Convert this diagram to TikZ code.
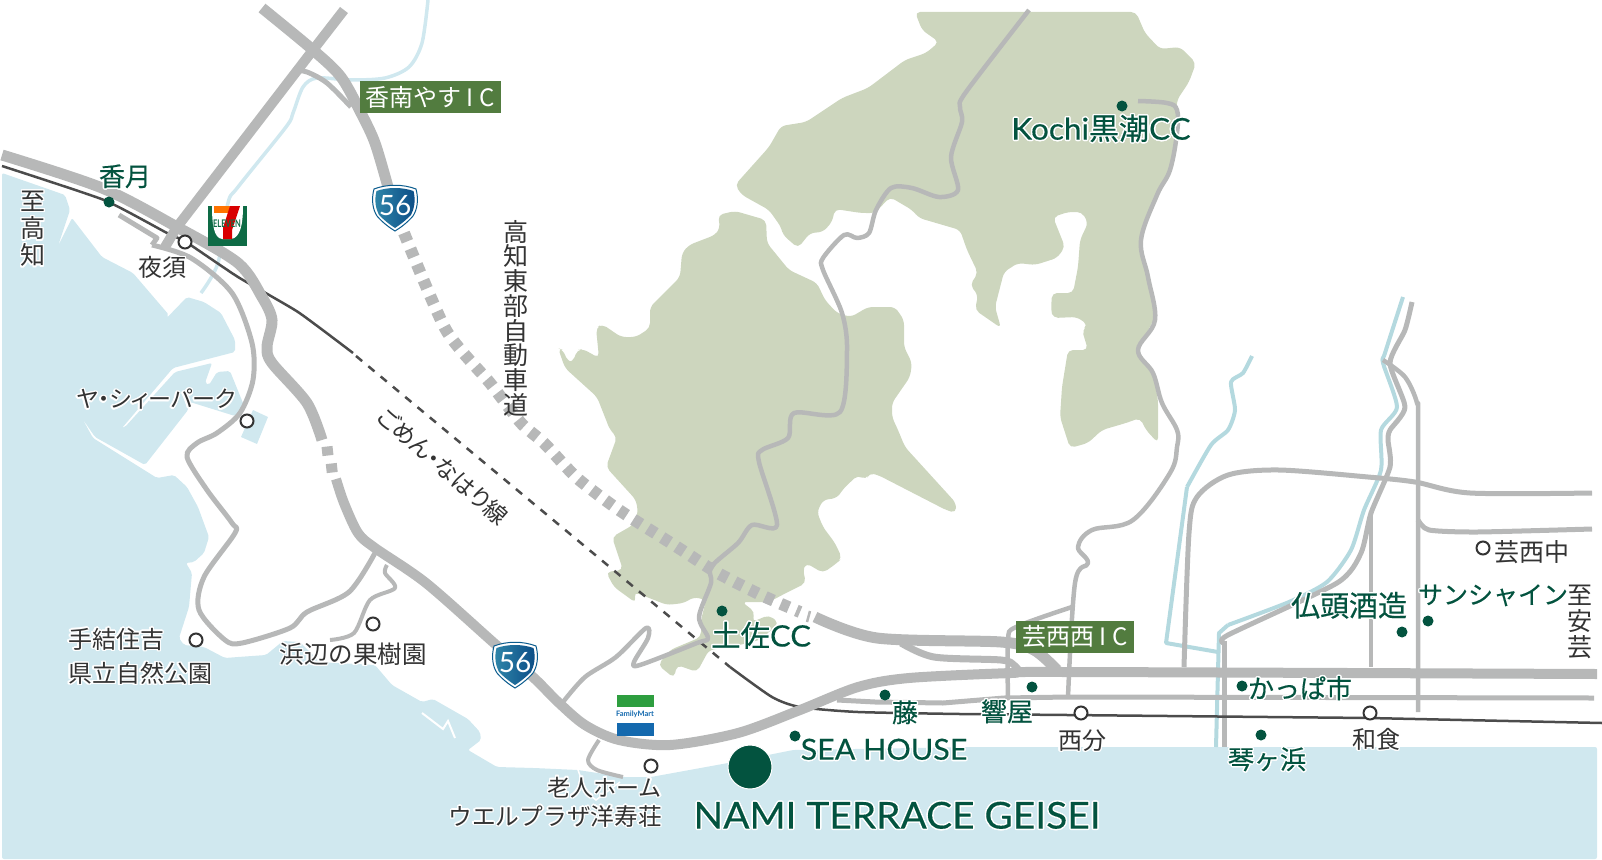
\documentclass[tikz,border=0pt]{standalone}
\usepackage{fontspec}
\usepackage[copies]{contour}
\setmainfont{Noto Sans CJK JP}
\newfontfamily\latinfont{Lato}
\newfontfamily\spotfont[FakeBold=0.35]{Noto Sans CJK JP}
\newfontfamily\latinspot[FakeBold=0.3, FakeStretch=1.05]{Lato}
\newfontfamily\paltfont[RawFeature={+palt}]{Noto Sans CJK JP}
\usetikzlibrary{positioning}

\definecolor{seablue}{HTML}{D0E8EF}
\definecolor{hillgreen}{HTML}{CDD6BE}
\definecolor{roadgray}{HTML}{B7B8B8}
\definecolor{railgray}{HTML}{4C4C4C}
\definecolor{riverblue}{HTML}{B4D9DF}
\definecolor{inkgray}{HTML}{333333}
\definecolor{spotgreen}{HTML}{03533F}
\definecolor{icgreen}{HTML}{527C3F}
\definecolor{shieldedge}{HTML}{0B5C8E}
\definecolor{shieldleft}{HTML}{2F86A9}
\definecolor{shieldright}{HTML}{0B4C86}
\definecolor{sevengreen}{HTML}{0E6B45}
\definecolor{martgreen}{HTML}{2E9E3F}
\definecolor{martblue}{HTML}{1469AE}

\newcommand{\fs}[1]{\fontsize{#1pt}{#1pt}\selectfont}
\newcommand{\halo}[1]{\contour{white}{#1}}
\contourlength{1.4pt}

\tikzset{
  road/.style={draw=roadgray, line width=#1, line join=round},
  river/.style={draw=riverblue, line width=#1, line join=round},
  hill/.style={fill=hillgreen, rounded corners=5pt},
  rail/.style={draw=railgray, line width=2.5pt},
  openstop/.style={circle, draw=inkgray, fill=white, line width=2pt, minimum size=13pt, inner sep=0pt},
  spotdot/.style={circle, fill=spotgreen, minimum size=11pt, inner sep=0pt},
  jp/.style={font=\fs{24}, text=inkgray, inner sep=0pt},
  spot/.style={font=\fs{26}\spotfont, text=spotgreen, inner sep=0pt},
  iclabel/.style={fill=icgreen, text=white, font=\fs{24}, inner sep=0pt, minimum height=32pt},
  shield/.pic={
    \path[fill=white, draw=shieldedge, line width=1pt] (-21,-19) .. controls (-8,-24) and (8,-24) .. (21,-19)
      .. controls (24,-8) and (22,2) .. (18,8) .. controls (12,15) and (5,20) .. (0,23)
      .. controls (-5,20) and (-12,15) .. (-18,8) .. controls (-22,2) and (-24,-8) .. (-21,-19) -- cycle;
    \shade[left color=shieldleft, right color=shieldright] (-18.5,-17) .. controls (-7,-21) and (7,-21) .. (18.5,-17)
      .. controls (21,-7) and (19,1) .. (16,7) .. controls (10,13) and (4,17.5) .. (0,20)
      .. controls (-4,17.5) and (-10,13) .. (-16,7) .. controls (-19,1) and (-21,-7) .. (-18.5,-17) -- cycle;
  }
}

\begin{document}
\begin{tikzpicture}[x=1pt,y=-1pt]
  \useasboundingbox (0,0) rectangle (1602,859);

  % 1. 海
  \fill[seablue, rounded corners=2pt] (2,173) -- (65,195) -- (70,210) -- (58,246) -- (72,218) -- (102,257) -- (133,273)
    -- (169,315) -- (158,327) -- (187,297) -- (204,302) -- (221,313) -- (235,340) -- (235,352) -- (173,368) -- (122,428)
    -- (125,427) -- (175,372) -- (212,363) -- (205,383) -- (209,385) -- (217,372) -- (230,371) -- (245,408) -- (235,416)
    -- (190,402) -- (188,410) -- (145,465) -- (95,437) -- (82,418) -- (93,438) -- (157,478) -- (174,475) -- (187,487)
    -- (198,507) -- (209,537) -- (204,553) -- (194,562) -- (186,563) -- (192,573) -- (189,607) -- (179,638) -- (184,645)
    -- (204,647) -- (225,658) -- (238,657) -- (266,655) -- (283,641) -- (300,642) -- (320,662) -- (375,665) -- (392,685)
    -- (422,702) -- (433,699) -- (468,719) -- (480,732) -- (481,740) -- (468,750) -- (497,767) -- (534,768) -- (578,770)
    -- (623,777) -- (651,777) -- (728,763) -- (793,750) -- (977,747) -- (1068,747) -- (1597,747) -- (1597,859) -- (2,859) -- cycle;
  \fill[seablue] (253,410) -- (268,417) -- (257,444) -- (241,437) -- cycle;
  \draw[white, line width=2pt] (422,713) -- (443,729) -- (448,721) -- (455,738);
  \draw[white, line width=1.5pt] (578,770) -- (586,792) -- (596,800) -- (620,782);

  % 2. 山
  \fill[hill] (915,12) -- (922,30) -- (939,42) -- (926,53) -- (905,60) -- (868,88) -- (842,98) -- (806,122) -- (781,126)
    -- (769,147) -- (735,185) -- (742,195) -- (769,210) -- (781,227) -- (783,235) -- (798,248) -- (810,233) -- (823,232)
    -- (832,222) -- (835,209) -- (861,213) -- (875,213) -- (890,197) -- (912,210) -- (919,218) -- (960,230) -- (967,250)
    -- (978,273) -- (970,285) -- (978,295) -- (975,310) -- (1001,328) -- (995,307) -- (1004,272) -- (1018,263) -- (1035,265)
    -- (1057,258) -- (1065,247) -- (1053,217) -- (1068,212) -- (1082,212) -- (1088,223) -- (1080,240) -- (1078,267)
    -- (1073,293) -- (1052,293) -- (1051,310) -- (1053,318) -- (1077,317) -- (1088,325) -- (1082,330) -- (1088,350)
    -- (1068,350) -- (1062,387) -- (1060,417) -- (1070,448) -- (1088,443) -- (1102,430) -- (1126,423) -- (1140,418)
    -- (1146,430) -- (1158,443) -- (1158,400) -- (1153,373) -- (1138,350) -- (1155,317) -- (1148,277) -- (1141,240)
    -- (1155,197) -- (1170,173) -- (1175,147) -- (1177,100) -- (1189,82) -- (1196,63) -- (1180,47) -- (1160,49)
    -- (1145,33) -- (1136,12) -- cycle;
  \fill[hill] (718,215) -- (735,211) -- (766,220) -- (767,243) -- (789,270) -- (817,283) -- (825,300) -- (837,313)
    -- (851,317) -- (868,307) -- (895,307) -- (904,320) -- (904,347) -- (912,363) -- (910,377) -- (892,403) -- (892,417)
    -- (898,430) -- (905,447) -- (956,503) -- (956,513) -- (946,510) -- (878,475) -- (869,473) -- (866,480) -- (858,475)
    -- (844,488) -- (837,498) -- (823,500) -- (817,512) -- (823,527) -- (835,543) -- (842,558) -- (837,563) -- (823,573)
    -- (806,563) -- (803,570) -- (806,583) -- (786,593) -- (769,602) -- (742,602) -- (755,612) -- (752,622) -- (769,615)
    -- (779,623) -- (760,640) -- (731,647) -- (709,650) -- (697,672) -- (677,665) -- (674,678) -- (658,665) -- (670,650) -- (701,637)
    -- (701,620) -- (706,600) -- (694,597) -- (684,603) -- (667,605) -- (634,592) -- (636,603) -- (614,587) -- (606,572)
    -- (623,570) -- (612,537) -- (633,525) -- (638,513) -- (636,500) -- (606,467) -- (617,437) -- (610,430) -- (597,397)
    -- (565,368) -- (558,348) -- (563,350) -- (568,362) -- (573,362) -- (577,350) -- (583,349) -- (599,358) -- (596,328)
    -- (602,324) -- (621,337) -- (636,337) -- (650,328) -- (650,307) -- (680,277) -- (682,253) -- (689,245) -- (715,235)
    -- (720,228) -- cycle;

  % 3. 川
  \draw[draw=seablue, line width=3.5pt] plot[smooth, tension=0.5] coordinates {(428,0) (422,43) (409,67) (385,78) (351,80)
    (317,78) (303,87) (293,113) (286,127) (238,187) (228,203) (218,263) (201,293)};
  \draw[river=4pt] plot[smooth, tension=0.4] coordinates {(1252,356) (1243,373) (1231,382) (1235,410) (1228,430) (1211,445) (1187,487)};
  \draw[river=4pt] (1187,487) -- (1166,643) -- (1218,652);
  \draw[river=4pt] plot[smooth, tension=0.4] coordinates {(1403,297) (1385,353) (1383,363) (1397,407) (1381,430) (1381,470)
    (1364,510) (1351,550) (1327,582) (1289,602) (1228,625)};
  \draw[river=4pt] (1228,625) -- (1219,633) -- (1216,747);

  % 4. 鉄道(西側は道路の下)
  \draw[rail] plot[smooth, tension=0.3] coordinates {(2,166) (104,200) (167,233) (186,242) (238,277) (298,312) (353,353)};
  \draw[rail, dash pattern=on 8pt off 8pt] (356,356) -- (730,667);
  \draw[rail] plot[smooth, tension=0.4] coordinates {(730,667) (772,697) (800,707) (858,712) (960,714)};

  % 5. 道路
  \draw[road=5pt] plot[smooth] coordinates {(293,70) (307,72) (327,83) (351,107)};
  \draw[road=11pt] plot[smooth] coordinates {(262,8) (313,50) (341,77) (361,113) (375,143) (388,187)};
  \draw[road=10pt] (344,10) -- (313,50) -- (177,227) -- (165,247);
  \draw[road=5pt] (119,215) -- (157,238) -- (152,245);
  \draw[road=5pt] plot[smooth] coordinates {(152,245) (191,258) (232,293) (252,343) (253,380) (240,413) (217,433) (197,443)
    (187,457) (207,490) (232,523) (235,533) (204,577) (199,610) (225,640) (242,643) (290,628) (307,612) (349,592) (375,553)};
  \draw[road=4pt] plot[smooth] coordinates {(387,565) (385,573) (395,588) (370,600) (354,633) (330,640)};
  \draw[road=11pt] plot[smooth] coordinates {(2,155) (102,188) (177,227) (238,263) (262,297) (272,320) (267,347) (272,363) (307,403) (322,440)};
  \foreach \py in {451,468}
    \draw[road=11pt] (327+\py/4-112.75,\py-4.5) -- (327+\py/4-112.75+1,\py+4.5);
  \draw[road=10pt] plot[smooth] coordinates {(336,479) (344,503) (358,533) (375,548) (426,583) (494,643) (534,678) (558,702)
    (585,725) (619,740) (670,745) (738,733) (800,710) (858,687) (909,678) (1011,673) (1068,672) (1597,674)};
  \draw[road=12pt, dash pattern=on 9pt off 8pt] plot[smooth, tension=0.4] coordinates {(404,233) (446,330) (490,383) (521,423)
    (544,443) (577,478) (619,510) (674,545) (716,572) (761,595) (800,612)};
  \draw[road=2.5pt] (810,611) -- (807,622);
  \draw[road=11pt] plot[smooth] coordinates {(815,617) (877,638) (1001,642) (1034,650) (1057,670)};
  \draw[road=7pt] plot[smooth] coordinates {(901,643) (934,657) (1001,660) (1014,665) (1020,672)};
  \draw[road=4.5pt] plot[smooth, tension=0.5] coordinates {(1008,697) (1008,640) (1016,627) (1072,607)};
  \draw[road=5pt] (837,700) -- (875,702) -- (943,703) -- (1004,698) -- (1068,697) -- (1594,698);
  \draw[road=4.5pt] plot[smooth] coordinates {(563,702) (585,677) (616,657) (646,628) (648,638) (634,662) (640,665) (697,643) (708,638)
    (699,617) (711,583) (711,567) (738,543) (752,525) (777,525) (759,462) (762,450) (788,438) (794,413) (840,412) (847,350)
    (842,313) (823,270) (823,258) (844,235) (857,238) (869,233) (876,210) (891,188) (912,188) (939,197) (958,190) (951,157)
    (962,122) (960,107) (966,92) (1029,10)};
  \draw[road=4pt] plot[smooth] coordinates {(599,740) (588,760) (597,770) (623,777)};
  \draw[road=4.5pt] plot[smooth, tension=0.6] coordinates {(1138,101) (1167,103) (1177,110) (1177,133) (1170,170) (1157,195) (1141,240)
    (1148,277) (1155,320) (1138,350) (1153,373) (1162,403) (1177,430) (1177,447) (1170,473) (1133,520) (1092,530) (1078,547)
    (1088,563) (1075,583) (1068,697)};
  \draw[road=5pt] plot[smooth, tension=0.5] coordinates {(1184,667) (1189,533) (1197,497) (1228,475) (1279,470) (1368,477) (1415,482) (1470,493) (1592,493)};
  \draw[road=5pt] plot[smooth, tension=0.4] coordinates {(1418,520) (1429,530) (1477,532) (1592,529)};
  \draw[road=5pt] plot[smooth, tension=0.4] coordinates {(1412,302) (1405,330) (1390,363) (1405,407) (1390,430) (1388,440) (1390,467)
    (1371,513) (1361,553) (1337,583) (1228,635) (1224,643)};
  \draw[road=5pt] (1224,641) -- (1224,747);
  \draw[road=4.5pt] plot[smooth, tension=0.5] coordinates {(1383,360) (1405,377) (1417,403) (1418,430) (1418,712)};
  \draw[road=4pt] (1371,513) -- (1371,667);

  % 6. 鉄道(東側は道路の上)
  \draw[rail] (960,714) -- (1068,715) -- (1369,718) -- (1602,723);

  % 7. 駅などの白丸
  \node[openstop] (stYasu) at (185,242) {};
  \node[openstop] (stPark) at (247,421) {};
  \node[openstop] (stTei) at (196,640) {};
  \node[openstop] (stOrchard) at (373,624) {};
  \node[openstop] (stHome) at (651,766) {};
  \node[openstop] (stNishibun) at (1081,713) {};
  \node[openstop] (stWajiki) at (1370,713) {};
  \node[openstop] (stSchool) at (1483,548) {};

  % 8. 緑の点
  \node[spotdot] (dotKagetsu) at (109,202) {};
  \node[spotdot] (dotKochi) at (1122,106) {};
  \node[spotdot] (dotTosa) at (722,611) {};
  \node[spotdot] (dotFuji) at (885,695) {};
  \node[spotdot] (dotHibiki) at (1032,687) {};
  \node[spotdot] (dotSea) at (795,736) {};
  \node[spotdot] (dotKappa) at (1242,686) {};
  \node[spotdot] (dotButto) at (1402,632) {};
  \node[spotdot] (dotSun) at (1428,621) {};
  \node[spotdot] (dotKoto) at (1261,735) {};
  \node[circle, fill=spotgreen, draw=white, line width=1pt, minimum size=44pt, inner sep=0pt] (dotNami) at (750,767) {};

  % 9. 黒い文字
  \foreach \ch [count=\i] in {至,高,知}
    \node[jp, font=\fs{25}] (toKochi\i) at (33,175+27*\i) {\halo{\ch}};
  \foreach \ch [count=\i] in {高,知,東,部,自,動,車,道}
    \node[jp, font=\fs{25}] (highway\i) at (516,207+24.7*\i) {\ch};
  \foreach \ch [count=\i] in {至,安,芸}
    \node[jp, font=\fs{25}] (toAki\i) at (1580,569+26*\i) {\ch};
  \node[jp, font=\fs{24}\paltfont] (yasu) at (162,268) {\halo{夜須}};
  \node[jp, font=\fs{23}\paltfont] (seaPark) at (156,400) {\halo{ヤ・シィーパーク}};
  \node[jp, font=\fs{23}\paltfont, rotate=-41] (gomen) at (443,466) {ごめん・なはり線};
  \node[jp, anchor=west] (tei1) at (68,640) {\halo{手結住吉}};
  \node[jp, anchor=west] (tei2) at (68,674) {\halo{県立自然公園}};
  \node[jp, font=\fs{24.5}] (orchard) at (353,655) {\halo{浜辺の果樹園}};
  \node[jp, font=\fs{23}, anchor=east] (home1) at (662,788) {\halo{老人ホーム}};
  \node[jp, font=\fs{23.7}, anchor=east] (home2) at (662,817) {\halo{ウエルプラザ洋寿荘}};
  \node[jp] (nishibun) at (1082,741) {\halo{西分}};
  \node[jp] (wajiki) at (1376,740) {\halo{和食}};
  \node[jp, font=\fs{25}] (school) at (1532,552) {芸西中};

  % 10. 緑の文字
  \node[spot] (kagetsu) at (125,177) {\halo{香月}};
  \node[spot, font=\fs{30}\spotfont] (kochi) at (1101,129) {\halo{{\latinspot Kochi}黒潮{\latinspot CC}}};
  \node[spot, font=\fs{29.5}\spotfont] (tosa) at (761,636) {\halo{土佐{\latinspot CC}}};
  \node[spot] (fuji) at (905,713) {\halo{藤}};
  \node[spot] (hibiki) at (1007,712) {\halo{響屋}};
  \node[spot, font=\fs{29}\latinspot] (seaHouse) at (884,750) {\halo{SEA HOUSE}};
  \node[spot, font=\fs{37}\latinspot] (nami) at (897,816) {\halo{NAMI TERRACE GEISEI}};
  \node[spot] (koto) at (1267,760) {\halo{琴ヶ浜}};
  \node[spot] (kappa) at (1300,689) {\halo{かっぱ市}};
  \node[spot, font=\fs{29}\spotfont] (butto) at (1349,606) {\halo{仏頭酒造}};
  \node[spot, font=\fs{25}\spotfont] (sun) at (1493,596) {\halo{サンシャイン}};

  % 11. インターの札
  \node[iclabel, minimum width=141pt] (icKonan) at (430,97) {香南やす\hspace{.2em}I\hspace{.25em}C};
  \node[iclabel, minimum width=118pt] (icGeisei) at (1075,637) {芸西西\hspace{.2em}I\hspace{.25em}C};

  % 12. 国道の札
  \pic at (395,208) {shield};
  \node[font=\fs{28}\latinfont, text=white, inner sep=0pt] (routeA) at (395,206) {56};
  \pic at (515,665) {shield};
  \node[font=\fs{28}\latinfont, text=white, inner sep=0pt] (routeB) at (515,663) {56};

  % 13. コンビニ
  \fill[sevengreen] (208,206) rectangle (247,246);
  \fill[white] (212,206) -- (243,206) .. controls (243,225) and (240,238) .. (231,239) -- (222,239) .. controls (214,238) and (212,225) .. (212,206) -- cycle;
  \fill[orange!90!red] (214,206) rectangle (230,213);
  \fill[red!85!black] (230,206) -- (240,206) -- (232,230) -- (232,239) -- (223,239) -- (223,228) -- cycle;
  \node[font=\fs{7.5}\bfseries\latinfont, text=sevengreen, inner sep=0pt, yscale=1.4, transform shape] (sevenText) at (227,224) {ELEVEN};
  \fill[martgreen] (617,695) rectangle (654,707);
  \fill[martblue] (617,723) rectangle (654,736);
  \node[font=\fs{7.5}\bfseries\latinfont, text=martblue, inner sep=0pt] (martText) at (635,714) {FamilyMart};

\end{tikzpicture}
\end{document}
